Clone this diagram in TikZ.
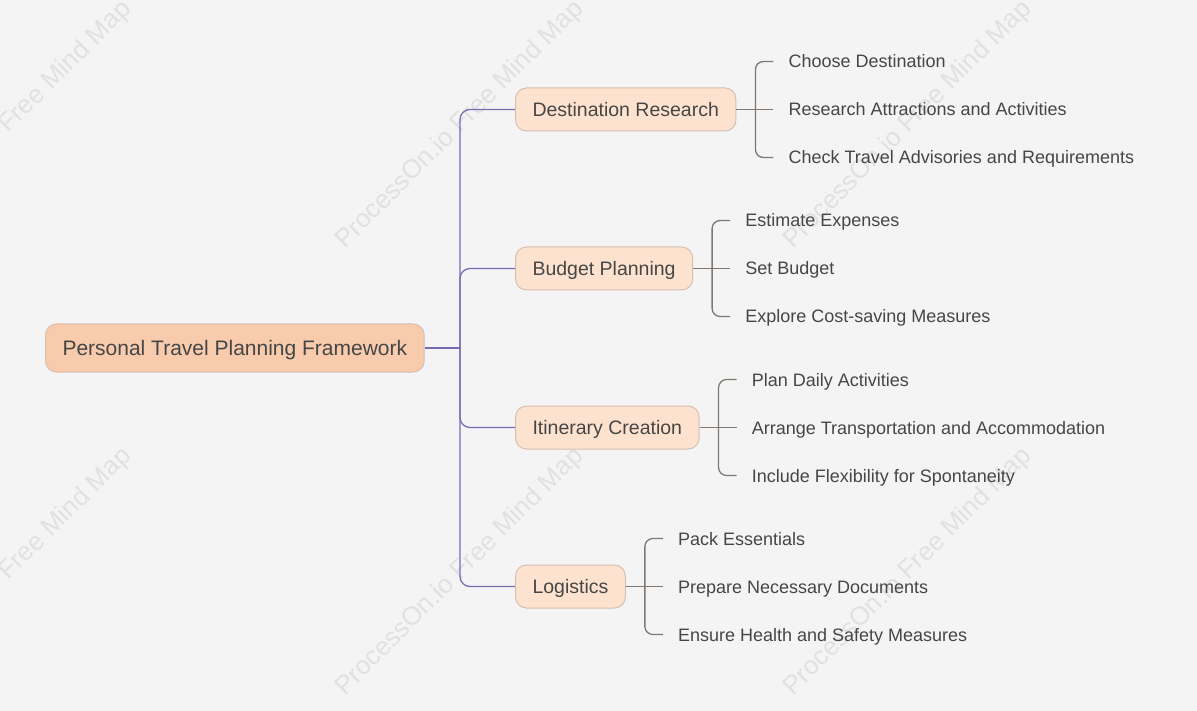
\documentclass[tikz,border=0pt]{standalone}
\usepackage{fontspec}
\setmainfont{Liberation Sans}
\usetikzlibrary{positioning, calc}
\definecolor{colBg}{RGB}{244,244,244}
\definecolor{colRoot}{RGB}{247,203,172}
\definecolor{colBranch}{RGB}{253,227,207}
\definecolor{colBorder}{RGB}{214,190,176}
\definecolor{colTrunk}{RGB}{118,108,180}
\definecolor{colBrace}{RGB}{128,120,115}
\definecolor{colText}{RGB}{70,70,70}
\definecolor{colMark}{RGB}{225,225,225}
\tikzset{
  box/.style={
    rectangle, rounded corners=11pt,
    draw=colBorder, line width=1pt,
    text=colText, inner xsep=17pt, inner ysep=0pt,
    text depth=0pt
  },
  rootBox/.style={
    box, fill=colRoot, minimum height=48pt, text height=15pt,
    font=\fontsize{21}{24}\selectfont
  },
  branchBox/.style={
    box, fill=colBranch, minimum height=43pt, text height=14pt,
    font=\fontsize{19.5}{22}\selectfont
  },
  leaf/.style={
    anchor=west, inner xsep=15pt, inner ysep=0pt,
    text height=13pt, text depth=0pt,
    text=colText, font=\fontsize{18}{21}\selectfont
  },
  trunk/.style={
    draw=colTrunk, line width=1.3pt, rounded corners=10pt
  },
  brace/.style={
    draw=colBrace, line width=1.3pt, rounded corners=8pt
  },
  waterMark/.style={
    text=colMark, rotate=45, font=\fontsize{26}{28}\selectfont
  }
}

\begin{document}
\begin{tikzpicture}[x=1pt, y=-1pt, node distance=37pt]

  \useasboundingbox[fill=colBg] (0,0) rectangle (1197,711);

  % watermarks
  \foreach \mx in {8,460,908} {
    \foreach \my in {125,572} {
      \node[waterMark] at (\mx,\my) {ProcessOn.io Free Mind Map};
    }
  }

  % root and main branches
  \node[rootBox, anchor=west] (root) at (45,348) {Personal Travel Planning Framework};
  \node[branchBox, anchor=west] (dest) at (515,109.5) {Destination Research};
  \node[branchBox, anchor=west] (budget) at (515,268.5) {Budget Planning};
  \node[branchBox, anchor=west] (itin) at (515,427.5) {Itinerary Creation};
  \node[branchBox, anchor=west] (logi) at (515,586.5) {Logistics};

  % trunk: root -> branches
  \coordinate (hub) at (460,348);
  \draw[trunk] (root.east) -- (hub);
  \foreach \b in {dest,budget,itin,logi}
    \draw[trunk] (hub) |- (\b.west);

  % leaves
  \node[leaf, right=of dest, yshift=48pt] (dest1) {Choose Destination};
  \node[leaf, right=of dest] (dest2) {Research Attractions and Activities};
  \node[leaf, right=of dest, yshift=-48pt] (dest3) {Check Travel Advisories and Requirements};

  \node[leaf, right=of budget, yshift=48pt] (budget1) {Estimate Expenses};
  \node[leaf, right=of budget] (budget2) {Set Budget};
  \node[leaf, right=of budget, yshift=-48pt] (budget3) {Explore Cost-saving Measures};

  \node[leaf, right=of itin, yshift=48pt] (itin1) {Plan Daily Activities};
  \node[leaf, right=of itin] (itin2) {Arrange Transportation and Accommodation};
  \node[leaf, right=of itin, yshift=-48pt] (itin3) {Include Flexibility for Spontaneity};

  \node[leaf, right=of logi, yshift=48pt] (logi1) {Pack Essentials};
  \node[leaf, right=of logi] (logi2) {Prepare Necessary Documents};
  \node[leaf, right=of logi, yshift=-48pt] (logi3) {Ensure Health and Safety Measures};

  % braces: branch -> leaves
  \foreach \b in {dest,budget,itin,logi} {
    \draw[brace] (\b.east) -- (\b2.west);
    \draw[brace] (\b1.west) -| ([xshift=19pt]\b.east) |- (\b3.west);
  }

\end{tikzpicture}
\end{document}
